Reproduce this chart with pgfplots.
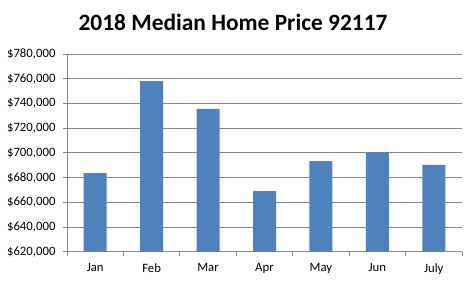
\documentclass[border=0pt]{standalone}
\usepackage{pgfplots}
\pgfplotsset{compat=1.18}
\usepackage{fontspec}
\setmainfont{Carlito}
\definecolor{barblue}{HTML}{4F81BD}
\definecolor{gridgray}{HTML}{868686}
\begin{document}
\begin{tikzpicture}[x=1bp,y=1bp]
\path[use as bounding box] (0,0) rectangle (472,280);
\begin{axis}[
  at={(67bp,28.3bp)}, anchor=south west,
  scale only axis, width=395bp, height=197.7bp,
  xmin=-0.5, xmax=6.5, ymin=620000, ymax=780000,
  ytick={620000,640000,...,780000},
  axis lines*=left,
  axis line style={draw=gridgray,-, line width=0.8pt},
  ymajorgrids, major grid style={draw=gridgray, line width=0.8pt},
  tick align=outside, tick pos=left,
  major tick length=4bp, minor tick length=4bp,
  xtick=data, xticklabels={Jan,Feb,Mar,Apr,May,Jun,July},
  minor xtick={-0.5,0.5,...,6.5},
  x tick style={draw=none}, minor x tick style={draw=gridgray, line width=0.8pt},
  y tick style={draw=gridgray, line width=0.8pt},
  yticklabel={\$\pgfmathprintnumber[fixed,1000 sep={,}]{\tick}},
  scaled y ticks=false,
  /pgf/number format/assume math mode=true,
  ticklabel style={font=\fontsize{12.8}{14}\selectfont},
  yticklabel style={xshift=-4bp},
  xticklabel style={yshift=-4bp},
  ybar, bar width=23bp,
]
\addplot[fill=barblue, draw=none, bar shift=0pt] coordinates {
(0,683500) (1,758000) (2,735500) (3,669100) (4,693400) (5,700300) (6,690200)};
\end{axis}
\node[font=\bfseries\fontsize{23.5}{27}\selectfont] at (233,258) {2018 Median Home Price 92117};
\end{tikzpicture}
\end{document}
